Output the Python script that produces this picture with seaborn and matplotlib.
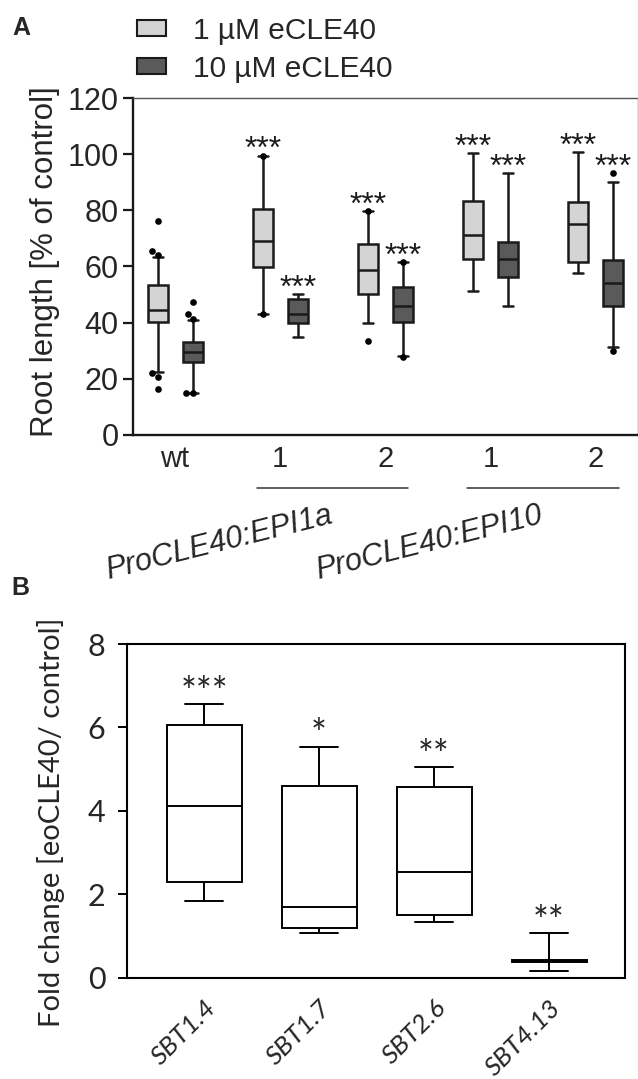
import numpy as np
import pandas as pd
import matplotlib.pyplot as plt
import seaborn as sns
from matplotlib.patches import Patch

# ---- Panel A: root length, five-number summaries
lines_a = ["wt", "EPI1a-1", "EPI1a-2", "EPI10-1", "EPI10-2"]
ticks_a = ["wt", "1", "2", "1", "2"]
doses = ["1 µM eCLE40", "10 µM eCLE40"]

low_1 = [22.5, 43.0, 40.0, 51.4, 57.8]
q1_1 = [40.4, 59.7, 50.2, 62.7, 61.7]
med_1 = [44.5, 69.1, 58.8, 71.2, 75.0]
q3_1 = [53.4, 80.5, 67.9, 83.3, 82.9]
high_1 = [63.5, 99.5, 79.9, 100.3, 100.9]

low_10 = [15.1, 34.8, 28.1, 46.0, 31.5]
q1_10 = [26.1, 39.8, 40.1, 56.2, 46.0]
med_10 = [29.7, 43.1, 46.0, 62.7, 54.0]
q3_10 = [33.0, 48.4, 52.6, 68.6, 62.3]
high_10 = [41.0, 50.2, 61.7, 93.2, 90.2]

# single points drawn outside / at the whisker ends
out_line = ["wt"] * 6 + ["wt"] * 5 + ["EPI1a-1"] * 2 + ["EPI1a-2"] * 4 + ["EPI10-2"] * 2
out_dose = ([doses[0]] * 6 + [doses[1]] * 5 + [doses[0]] * 2
            + [doses[0]] * 2 + [doses[1]] * 2 + [doses[1]] * 2)
out_val = [76.3, 65.6, 64.1, 22.0, 20.5, 16.3,
           47.5, 43.1, 41.3, 15.0, 15.0,
           99.5, 43.0,
           79.9, 33.6, 61.7, 27.6,
           93.4, 29.9]

stars_1 = ["", "***", "***", "***", "***"]
stars_10 = ["", "***", "***", "***", "***"]

groups_a = ["ProCLE40:EPI1a", "ProCLE40:EPI10"]

# ---- Panel B: fold change
genes = ["SBT1.4", "SBT1.7", "SBT2.6", "SBT4.13"]
low_b = [1.85, 1.06, 1.33, 0.17]
q1_b = [2.29, 1.20, 1.50, 0.37]
med_b = [4.12, 1.70, 2.53, 0.40]
q3_b = [6.06, 4.60, 4.57, 0.43]
high_b = [6.56, 5.54, 5.05, 1.06]
stars_b = ["***", "*", "**", "**"]

light = "#d4d4d4"
dark = "#5a5a5a"
edge = "#1a1a1a"
calib = ["Lato", "DejaVu Sans"]

sns.set_theme(style="ticks")
plt.rcParams["font.family"] = ["Liberation Sans", "DejaVu Sans"]

fig = plt.figure(figsize=(6.38, 10.79), dpi=100)
W, H = 638, 1079
axA = fig.add_axes([133 / W, 1 - 435 / H, (637.5 - 133) / W, (435 - 98) / H])
axB = fig.add_axes([127 / W, 1 - 977.7 / H, (625 - 127) / W, (977.7 - 644) / H])

# long table for A: each box as its five summary values
rows = []
summ = {doses[0]: [low_1, q1_1, med_1, q3_1, high_1],
        doses[1]: [low_10, q1_10, med_10, q3_10, high_10]}
for i, ln in enumerate(lines_a):
    for d in doses:
        for arr in summ[d]:
            rows.append({"pos": i, "dose": d, "value": arr[i]})
dfA = pd.DataFrame(rows)

box_w = 0.667
sns.boxplot(data=dfA, x="pos", y="value", hue="dose", hue_order=doses,
            native_scale=True, orient="x",
            palette={doses[0]: light, doses[1]: dark}, saturation=1,
            width=box_w, gap=0.43, whis=(0, 100), linecolor=edge,
            linewidth=1.8, legend=False, ax=axA)

shift = {doses[0]: -box_w / 4, doses[1]: box_w / 4}
dfO = pd.DataFrame({"line": out_line, "dose": out_dose, "value": out_val})
dfO["xpos"] = [lines_a.index(l) + shift[d] for l, d in zip(dfO["line"], dfO["dose"])]
sns.swarmplot(data=dfO, x="xpos", y="value", native_scale=True, orient="x",
              color="black", size=4.8, ax=axA)

# stars above each box
for i, ln in enumerate(lines_a):
    for d, hi, st in [(doses[0], high_1, stars_1), (doses[1], high_10, stars_10)]:
        if not st[i]:
            continue
        top = max([hi[i]] + list(dfO.loc[(dfO.line == ln) & (dfO.dose == d), "value"]))
        axA.text(i + shift[d], top - 1.0, st[i], ha="center", va="baseline",
                 fontsize=23, color=edge)

axA.set_xlim(-0.4, 4.4)
axA.set_ylim(0, 120)
axA.set_yticks(np.arange(0, 121, 20))
axA.set_xticks(range(len(lines_a)))
axA.set_xticklabels(ticks_a)
axA.tick_params(axis="y", labelsize=22, length=7, width=1.6, pad=3.5, color=edge)
axA.tick_params(axis="x", labelsize=21, length=0, pad=7)
axA.set_xlabel("")
axA.set_ylabel("Root length [% of control]", fontsize=22.5, labelpad=0)
axA.yaxis.set_label_coords(-0.145, 0.515)
for s in ["left", "bottom"]:
    axA.spines[s].set_linewidth(1.7)
    axA.spines[s].set_color(edge)
for s in ["top", "right"]:
    axA.spines[s].set_visible(True)
    axA.spines[s].set_linewidth(1.0)
    axA.spines[s].set_color("#555555")

# group underlines and rotated group names
for k, g in enumerate(groups_a):
    c = 1.5 + 2 * k
    axA.plot([c - 0.72, c + 0.72], [-0.157, -0.157], color="#333333", lw=1.1,
             transform=axA.get_xaxis_transform(), clip_on=False)
    axA.text(c - 1.08, -0.32, g, rotation=14, rotation_mode="anchor",
             ha="center", va="center", fontsize=22, style="italic",
             transform=axA.get_xaxis_transform())

handles = [Patch(facecolor=light, edgecolor=edge, lw=1.5),
           Patch(facecolor=dark, edgecolor=edge, lw=1.5)]
fig.legend(handles, doses, loc="upper left", bbox_to_anchor=(137 / W, 1 - 17 / H),
           frameon=False, fontsize=21.5, handlelength=0.97, handleheight=0.44,
           handletextpad=0.9, labelspacing=0.33, borderpad=0, borderaxespad=0)

fig.text(12 / W, 1 - 35 / H, "A", fontsize=18, fontweight="bold", va="baseline")
fig.text(11 / W, 1 - 595 / H, "B", fontsize=18, fontweight="bold", va="baseline")

# ---- Panel B
rowsB = []
for i, g in enumerate(genes):
    for arr in [low_b, q1_b, med_b, q3_b, high_b]:
        rowsB.append({"gene": g, "fold": arr[i]})
dfB = pd.DataFrame(rowsB)

sns.boxplot(data=dfB, x="gene", y="fold", order=genes, color="white",
            saturation=1, linecolor="black", linewidth=1.4, width=0.652,
            whis=(0, 100), ax=axB)
for i, st in enumerate(stars_b):
    axB.text(i, high_b[i] - 0.02, st, ha="center", va="baseline",
             fontsize=27, family=calib)

axB.set_xlim(-0.67, 3.66)
axB.set_ylim(0, 8)
axB.set_yticks([0, 2, 4, 6, 8])
axB.set_xlabel("")
axB.set_ylabel("Fold change [eoCLE40/ control]", fontsize=21, family=calib)
axB.yaxis.set_label_coords(-0.125, 0.466)
axB.tick_params(axis="y", labelsize=22, length=6.5, width=1.4, pad=9, color="black")
axB.tick_params(axis="x", length=0, pad=13)
for lab in axB.get_yticklabels():
    lab.set_family(calib)
axB.set_xticks(range(len(genes)))
axB.set_xticklabels(genes, rotation=45, ha="right", rotation_mode="anchor",
                    fontsize=19, style="italic", family=calib)
for s in axB.spines.values():
    s.set_visible(True)
    s.set_linewidth(1.5)
    s.set_color("black")

fig.savefig("out.png", dpi=100)
